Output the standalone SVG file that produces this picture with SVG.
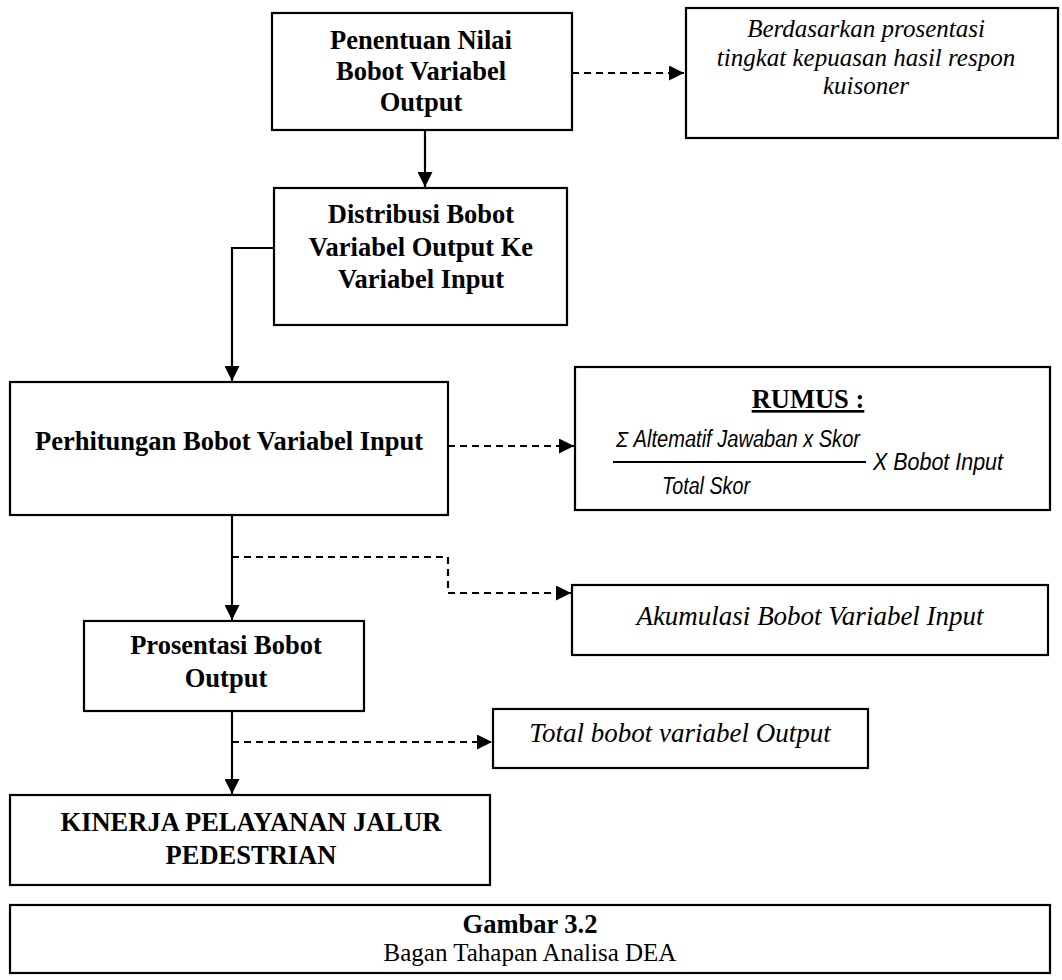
<svg xmlns="http://www.w3.org/2000/svg" width="1062" height="980" viewBox="0 0 1062 980">
<style>
.box{fill:#fff;stroke:#000;stroke-width:2.2}
.b{font-family:"Liberation Serif","Times New Roman",serif;font-weight:bold;font-size:26.5px;text-anchor:middle;fill:#000}
.i{font-family:"Liberation Serif","Times New Roman",serif;font-style:italic;font-size:25px;text-anchor:middle;fill:#000}
.i2{font-family:"Liberation Serif","Times New Roman",serif;font-style:italic;font-size:27px;text-anchor:middle;fill:#000}
.r{font-family:"Liberation Serif","Times New Roman",serif;font-size:25px;text-anchor:middle;fill:#000}
.f{font-family:"Liberation Sans Narrow","Liberation Sans",Arial,sans-serif;font-style:italic;font-size:23px;fill:#000}
.s{fill:none;stroke:#000;stroke-width:2.2}
.d{fill:none;stroke:#000;stroke-width:2.2;stroke-dasharray:7 5}
</style>
<defs>
<marker id="ah" viewBox="0 0 10 10" refX="10" refY="5" markerWidth="15" markerHeight="15" markerUnits="userSpaceOnUse" orient="auto">
<path d="M0,0 L10,5 L0,10 Z" fill="#000"/>
</marker>
</defs>
<g id="connectors">
<path class="d" d="M572,73 H684" marker-end="url(#ah)"/>
<path class="s" d="M425,130 V187" marker-end="url(#ah)"/>
<path class="s" d="M274,248 H232 V381" marker-end="url(#ah)"/>
<path class="d" d="M448,446 H574" marker-end="url(#ah)"/>
<path class="s" d="M232,515 V620" marker-end="url(#ah)"/>
<path class="d" d="M232,557 H448 V593 H571" marker-end="url(#ah)"/>
<path class="s" d="M232,711 V794" marker-end="url(#ah)"/>
<path class="d" d="M232,742 H492" marker-end="url(#ah)"/>
</g>
<g id="n1">
<rect class="box" x="272" y="13" width="300" height="117"/>
<text class="b" x="421" y="49">Penentuan Nilai</text>
<text class="b" x="421" y="80">Bobot Variabel</text>
<text class="b" x="421" y="111">Output</text>
</g>
<g id="n2">
<rect class="box" x="686" y="8" width="372" height="130"/>
<text class="i" x="866" y="37">Berdasarkan prosentasi</text>
<text class="i" x="866" y="66">tingkat kepuasan hasil respon</text>
<text class="i" x="866" y="94">kuisoner</text>
</g>
<g id="n3">
<rect class="box" x="274" y="188" width="293" height="137"/>
<text class="b" x="421" y="223">Distribusi Bobot</text>
<text class="b" x="421" y="256">Variabel Output Ke</text>
<text class="b" x="421" y="288">Variabel Input</text>
</g>
<g id="n4">
<rect class="box" x="10" y="382" width="438" height="133"/>
<text class="b" x="229" y="450">Perhitungan Bobot Variabel Input</text>
</g>
<g id="n5">
<rect class="box" x="575" y="367" width="475" height="143"/>
<text class="b" x="808" y="408" text-decoration="underline">RUMUS :</text>
<text class="f" x="616" y="447" textLength="244" lengthAdjust="spacingAndGlyphs">Σ Altematif Jawaban x Skor</text>
<line x1="613" y1="462" x2="866" y2="462" stroke="#000" stroke-width="2.2"/>
<text class="f" x="873" y="470" textLength="130" lengthAdjust="spacingAndGlyphs">X Bobot Input</text>
<text class="f" x="662" y="494" textLength="88" lengthAdjust="spacingAndGlyphs">Total Skor</text>
</g>
<g id="n6">
<rect class="box" x="572" y="585" width="476" height="70"/>
<text class="i2" x="810" y="625">Akumulasi Bobot Variabel Input</text>
</g>
<g id="n7">
<rect class="box" x="84" y="621" width="280" height="90"/>
<text class="b" x="226" y="654">Prosentasi Bobot</text>
<text class="b" x="226" y="687">Output</text>
</g>
<g id="n8">
<rect class="box" x="493" y="709" width="375" height="59"/>
<text class="i2" x="680" y="742">Total bobot variabel Output</text>
</g>
<g id="n9">
<rect class="box" x="10" y="795" width="480" height="90"/>
<text class="b" x="251" y="831">KINERJA PELAYANAN JALUR</text>
<text class="b" x="251" y="864">PEDESTRIAN</text>
</g>
<g id="caption">
<rect class="box" x="10" y="905" width="1040" height="68"/>
<text class="b" x="530" y="933" font-size="25">Gambar 3.2</text>
<text class="r" x="530" y="961">Bagan Tahapan Analisa DEA</text>
</g>
</svg>
